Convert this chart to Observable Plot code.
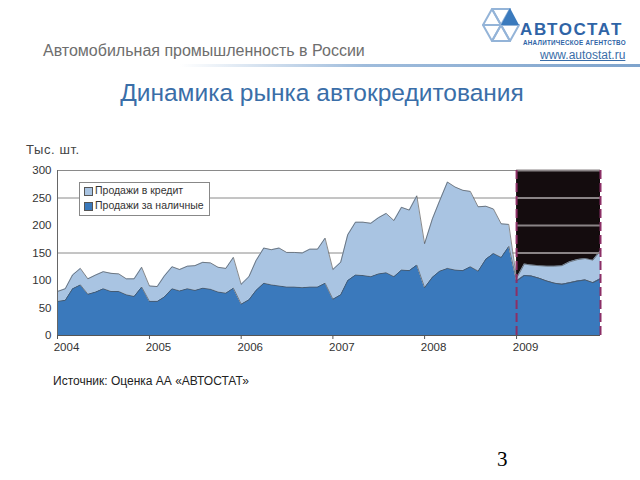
<!DOCTYPE html>
<html><head><meta charset="utf-8">
<script src="https://cdn.jsdelivr.net/npm/d3@7"></script>
<script src="https://cdn.jsdelivr.net/npm/@observablehq/plot@0.6"></script>
<style>
body{margin:0;background:#fff;font-family:"Liberation Sans",Arial,sans-serif;}
#page{position:relative;width:640px;height:480px;overflow:hidden;background:#fff;}
.abs{position:absolute;white-space:nowrap;}
#chart{position:absolute;left:0;top:130px;}
</style></head><body><div id="page">
<svg class="abs" style="left:478px;top:4px" width="48" height="42" viewBox="478 4 48 42">
  <g fill="none" stroke="#94b4d8" stroke-width="2" stroke-linejoin="round">
    <polygon points="483,25 492,9 501,25"/>
    <polygon points="492,9 510,9 501,25"/>
    <polygon points="483,25 501,25 492,41"/>
    <polygon points="492,41 510,41 501,25"/>
    <polygon points="501,25 519,25 510,41"/>
  </g>
  <polygon points="501,25 510,8 519,25" fill="#3a7abd"/>
</svg>
<div class="abs" style="left:520px;top:21px;font-size:17px;line-height:18px;font-weight:bold;color:#2f64a6;letter-spacing:1.6px;">АВТОСТАТ</div>
<div class="abs" style="left:523px;top:39px;font-size:6.3px;line-height:7px;font-weight:bold;color:#2f64a6;letter-spacing:0.25px;">АНАЛИТИЧЕСКОЕ АГЕНТСТВО</div>
<div class="abs" style="left:540px;top:49px;font-size:12px;line-height:13px;color:#3a6ea8;text-decoration:underline;">www.autostat.ru</div>
<div class="abs" style="left:43px;top:42px;font-size:16px;color:#6e6e6e;">Автомобильная промышленность в России</div>
<div class="abs" style="left:180px;top:64px;width:460px;height:3px;background:linear-gradient(to right, rgba(160,190,220,0), #9fbcdc 40%, #7ea3cc);"></div>
<div class="abs" style="left:0;width:644px;top:79px;text-align:center;font-size:24.5px;color:#3a6ea8;">Динамика рынка автокредитования</div>
<div class="abs" style="left:26px;top:142px;font-size:13px;color:#444;letter-spacing:0.6px;">Тыс. шт.</div>
<div id="chart"></div>
<div class="abs" style="left:79px;top:182px;width:129px;height:32px;background:#fff;border:1px solid #888;font-size:10.5px;color:#333;">
  <div class="abs" style="left:4px;top:4px;width:7px;height:7px;background:#a9c4e2;border:1px solid #555;"></div>
  <div class="abs" style="left:15px;top:1px;">Продажи в кредит</div>
  <div class="abs" style="left:4px;top:19px;width:7px;height:7px;background:#3a79bc;border:1px solid #555;"></div>
  <div class="abs" style="left:15px;top:16px;">Продажи за наличные</div>
</div>
<div class="abs" style="left:53px;top:374px;font-size:12px;color:#222;">Источник: Оценка АА «АВТОСТАТ»</div>
<div class="abs" style="left:497px;top:447px;font-size:21px;color:#000;font-family:'Liberation Serif','Times New Roman',serif;">3</div>
</div>
<script>
// Monthly data, Jan 2004 – Dec 2009 (thousand units)
const yearLabels = [2004, 2005, 2006, 2007, 2008, 2009];
const yTicks = [0, 50, 100, 150, 200, 250, 300];
const gridWhite = [150, 250, 300];
const gridDark = [150, 200, 250, 300];
const seriesNames = ["Продажи за наличные", "Продажи в кредит"];
const cashSales = [
  62, 64, 85, 92, 75, 79, 85, 80, 80, 74, 71, 88,
  62, 62, 70, 85, 81, 85, 82, 86, 84, 79, 77, 86,
  57, 65, 82, 95, 92, 90, 88, 88, 87, 88, 88, 95,
  66, 74, 100, 110, 109, 107, 112, 114, 107, 119, 118, 128,
  87, 106, 117, 122, 119, 118, 125, 117, 139, 149, 142, 162,
  99, 109, 108, 104, 99, 95, 93, 96, 99, 101, 96, 103
];
const creditSales = [
  18, 21, 25, 30, 28, 31, 31, 33, 32, 29, 32, 36,
  28, 27, 38, 40, 39, 41, 45, 47, 48, 45, 45, 56,
  36, 42, 54, 64, 64, 69, 63, 63, 63, 69, 69, 82,
  54, 59, 83, 96, 97, 97, 102, 108, 102, 114, 110, 126,
  80, 106, 128, 157, 151, 146, 137, 117, 96, 81, 61, 40,
  5, 21, 20, 23, 27, 31, 34, 38, 39, 39, 41, 51
];
const forecastYear = 2009;

const months = d3.utcMonth.range(new Date(Date.UTC(2004, 0, 1)), new Date(Date.UTC(2010, 0, 1)));
const table = [];
months.forEach((m, i) => {
  table.push({date: m, series: seriesNames[0], value: cashSales[i]});
  table.push({date: m, series: seriesNames[1], value: creditSales[i]});
});
const yearDates = yearLabels.map(y => new Date(Date.UTC(y, 0, 1)));
const fStart = new Date(Date.UTC(forecastYear, 0, 1));
const fEnd = months[months.length - 1];
const forecast = [{x1: fStart, x2: fEnd, y1: 0, y2: 300}];
const darkGrid = gridDark.map(v => ({y: v, x1: fStart, x2: fEnd}));

const chart = Plot.plot({
  width: 640,
  height: 240,
  marginTop: 40,
  marginBottom: 35,
  marginLeft: 57,
  marginRight: 40,
  style: {fontFamily: '"Liberation Sans", Arial, sans-serif', fontSize: "11.5px", color: "#333", background: "transparent"},
  x: {type: "utc", domain: [months[0], fEnd]},
  y: {domain: [0, 300]},
  color: {domain: seriesNames, range: ["#3a79bc", "#a9c4e2"]},
  marks: [
    Plot.ruleY(gridWhite, {stroke: "#8a8a8a", strokeWidth: 1}),
    Plot.rect(forecast, {x1: "x1", x2: "x2", y1: "y1", y2: "y2", fill: "#140c0e"}),
    Plot.areaY(table, Plot.stackY({x: "date", y: "value", z: "series", fill: "series", order: seriesNames, curve: "linear"})),
    Plot.lineY(table, Plot.stackY2({x: "date", y: "value", z: "series", order: seriesNames, stroke: "#4a4a4a", strokeWidth: 0.8, strokeOpacity: 0.8})),
    Plot.ruleY(darkGrid, {y: "y", x1: "x1", x2: "x2", stroke: "#8a8486", strokeWidth: 2}),
    Plot.ruleX([fStart, fEnd], {y1: 0, y2: 300, stroke: "#8c2f66", strokeWidth: 2, strokeDasharray: "9,4"}),
    Plot.ruleX([months[0]], {y1: 0, y2: 300, stroke: "#666"}),
    Plot.ruleY([0], {stroke: "#555"}),
    Plot.axisY({ticks: yTicks, tickSize: 0, tickPadding: 6, label: null, fontSize: 11.5}),
    Plot.axisX({ticks: yearDates, tickSize: 4, tickFormat: () => "", label: null, stroke: "#555"}),
    Plot.axisX({ticks: yearDates, tickSize: 0, tickPadding: 7, tickFormat: d3.utcFormat("%Y"), label: null, dx: 9, fontSize: 11.5})
  ]
});
document.getElementById("chart").appendChild(chart);
</script>
</body></html>
